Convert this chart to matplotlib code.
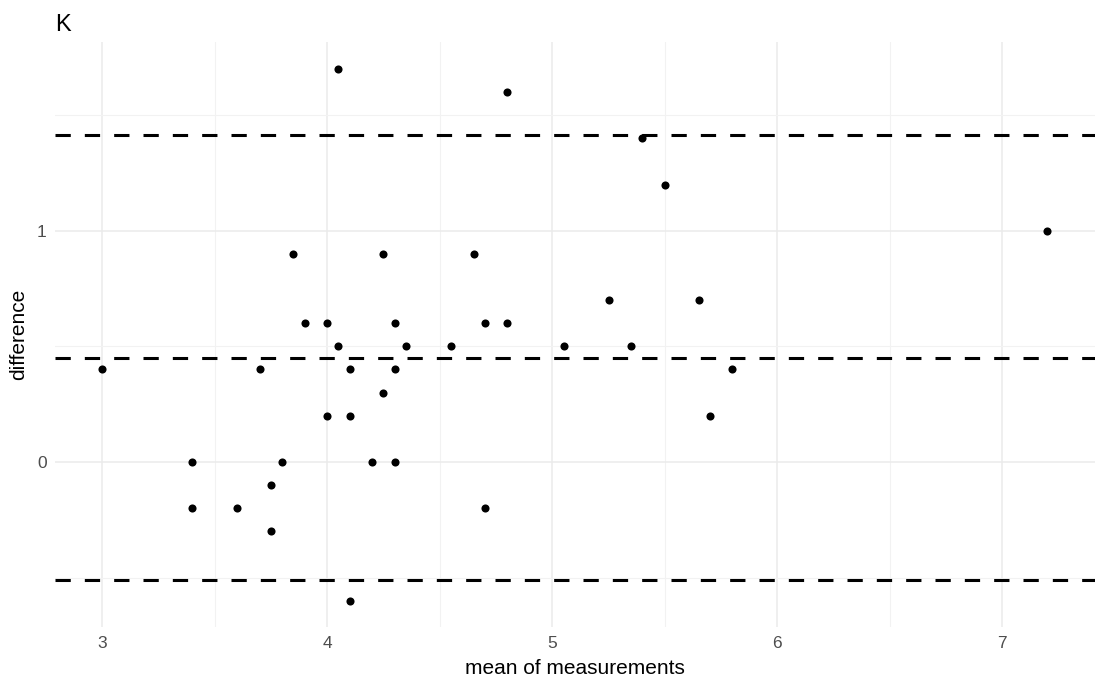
import numpy as np
import matplotlib.pyplot as plt

# Bland-Altman data: mean of the two measurements and their difference
mean_vals = [3.0, 3.4, 3.4, 3.6, 3.7, 3.75, 3.75, 3.8, 3.85, 3.9,
             4.0, 4.0, 4.05, 4.05, 4.1, 4.1, 4.1, 4.2, 4.25, 4.25,
             4.3, 4.3, 4.3, 4.35, 4.55, 4.65, 4.7, 4.7, 4.8, 4.8,
             5.05, 5.25, 5.35, 5.4, 5.5, 5.65, 5.7, 5.8, 7.2]
diff_vals = [0.4, 0.0, -0.2, -0.2, 0.4, -0.1, -0.3, 0.0, 0.9, 0.6,
             0.6, 0.2, 1.7, 0.5, 0.4, 0.2, -0.6, 0.0, 0.9, 0.3,
             0.6, 0.4, 0.0, 0.5, 0.5, 0.9, 0.6, -0.2, 1.6, 0.6,
             0.5, 0.7, 0.5, 1.4, 1.2, 0.7, 0.2, 0.4, 1.0]

# mean difference and limits of agreement
bias = 0.45
upper_loa = 1.416
lower_loa = -0.511

plt.rcParams['font.family'] = ['Liberation Sans', 'DejaVu Sans']

fig = plt.figure(figsize=(10.99, 6.84), dpi=100)
ax = fig.add_axes([0.050, 0.083, 0.946, 0.855])

ax.scatter(mean_vals, diff_vals, s=34, color='black', zorder=3, linewidths=0)
for yv in [bias, upper_loa, lower_loa]:
    ax.axhline(yv, color='black', lw=2.2, dashes=(5, 4.6), zorder=2)

ax.set_xlim(2.79, 7.41)
ax.set_ylim(-0.715, 1.815)
ax.set_xticks([3, 4, 5, 6, 7])
ax.set_yticks([0, 1])
ax.set_xticks(np.arange(3.5, 7.5, 1), minor=True)
ax.set_yticks([-0.5, 0.5, 1.5], minor=True)

ax.grid(True, which='major', color='#EBEBEB', lw=1.1)
ax.grid(True, which='minor', color='#F2F2F2', lw=0.8)
ax.set_axisbelow(True)
for s in ax.spines.values():
    s.set_visible(False)
ax.tick_params(which='both', length=0, labelsize=12.5, labelcolor='#4D4D4D', pad=6)

ax.set_xlabel("mean of measurements", fontsize=15, labelpad=6)
ax.set_ylabel("difference", fontsize=15, labelpad=6)
fig.text(0.050, 0.955, "K", fontsize=17, ha='left', va='baseline')

fig.savefig("out.png", dpi=100)
